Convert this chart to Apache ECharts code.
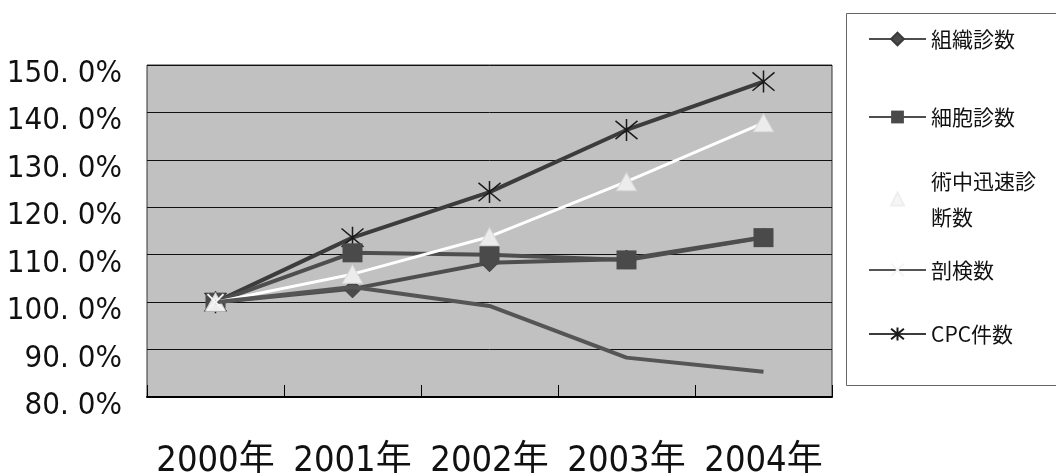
<!DOCTYPE html>
<html>
<head>
<meta charset="utf-8">
<script src="https://cdn.jsdelivr.net/npm/echarts@6/dist/echarts.min.js"></script>
<style>
  html, body { margin: 0; padding: 0; background: #ffffff; }
  #chart { width: 1056px; height: 473px; }
</style>
</head>
<body>
<div id="chart"></div>
<script>
// Year categories along the horizontal axis
const years = ['2000年', '2001年', '2002年', '2003年', '2004年'];

// Growth relative to 2000 (percent, 2000 = 100)
const soshikiShinsu = [100, 102.8, 108.3, 109.1, 113.7];   // 組織診数
const saiboShinsu   = [100, 110.4, 110.0, 108.9, 113.6];   // 細胞診数
const jinsokuShinsu = [100, 105.9, 113.8, 125.4, 137.8];   // 術中迅速診断数
const bokenSu       = [100, 103.2, 99.2, 88.3, 85.3];      // 剖検数
const cpcSu         = [100, 113.6, 123.2, 136.3, 146.5];   // CPC件数

// Value axis range
const yMin = 80, yMax = 150, yStep = 10;

const seriesNames = ['組織診数', '細胞診数', '術中迅速診断数', '剖検数', 'CPC件数'];

const labelFont = "'Liberation Sans Narrow', 'DejaVu Sans Condensed', 'Noto Sans CJK JP', sans-serif";
const cjkFont = "'Noto Sans CJK JP', sans-serif";

const crossPath = 'path://M0,0L10,10M10,0L0,10';
const starPath = 'path://M0,0L10,10M10,0L0,10M5,-1L5,11';

const chart = echarts.init(document.getElementById('chart'), null, { renderer: 'canvas' });

// One legend block per series, stacked inside the framed box on the right
const legendTops = [16, 94, 158, 247, 311];
const legends = seriesNames.map((name, i) => ({
  data: [name === '術中迅速診断数'
    ? { name: name, itemStyle: { color: '#f6f6f6', borderColor: '#eeeeee' } }
    : name],
  orient: 'vertical',
  left: 863,
  top: legendTops[i],
  itemWidth: 57,
  itemHeight: 16,
  itemGap: 0,
  selectedMode: false,
  textStyle: { fontFamily: cjkFont, fontSize: 21, color: '#111', lineHeight: 36 },
  formatter: n => n === '術中迅速診断数' ? '術中迅速診\n断数' : n
}));

chart.setOption({
  animation: false,
  backgroundColor: '#ffffff',
  graphic: [{
    type: 'rect',
    shape: { x: 846.5, y: 13.5, width: 240, height: 372 },
    style: { fill: 'none', stroke: '#666', lineWidth: 1 },
    z: -1
  }],
  legend: legends,
  grid: {
    left: 147, right: 224, top: 65, bottom: 76,
    outerBoundsMode: 'none',
    containLabel: false,
    show: true,
    backgroundColor: '#c1c1c1',
    borderColor: '#333',
    borderWidth: 1
  },
  xAxis: {
    type: 'category',
    data: years,
    boundaryGap: true,
    axisLine: { lineStyle: { color: '#000', width: 2 } },
    axisTick: { show: true, inside: true, length: 12, lineStyle: { color: '#000', width: 1 } },
    axisLabel: {
      interval: 0, margin: 47,
      fontFamily: labelFont, fontSize: 36, color: '#111'
    }
  },
  yAxis: {
    type: 'value',
    min: yMin, max: yMax, interval: yStep,
    axisLine: { show: false },
    axisTick: { show: false },
    splitLine: { lineStyle: { color: '#111', width: 1 } },
    axisLabel: {
      margin: 25,
      fontFamily: labelFont, fontSize: 31, color: '#111',
      formatter: v => '{v|' + v.toFixed(1).replace('.', '. ') + '%}',
      rich: {
        v: { fontFamily: labelFont, fontSize: 31, color: '#111', padding: [18, 0, 0, 0] }
      }
    }
  },
  series: [
    {
      name: '組織診数', type: 'line', data: soshikiShinsu,
      symbol: 'diamond', symbolSize: 18,
      lineStyle: { color: '#4e4e4e', width: 4 },
      itemStyle: { color: '#4a4a4a', borderColor: '#3a3a3a', borderWidth: 1 },
      z: 3
    },
    {
      name: '細胞診数', type: 'line', data: saiboShinsu,
      symbol: 'rect', symbolSize: [20, 19],
      lineStyle: { color: '#4e4e4e', width: 4 },
      itemStyle: { color: '#4a4a4a' },
      z: 4
    },
    {
      name: '術中迅速診断数', type: 'line', data: jinsokuShinsu,
      symbol: 'triangle', symbolSize: [20, 18],
      lineStyle: { color: '#ffffff', width: 3 },
      itemStyle: { color: '#ececec', borderColor: '#d8d8d8', borderWidth: 1 },
      z: 5
    },
    {
      name: '剖検数', type: 'line',
      data: bokenSu.map((v, i) => i === 0 ? { value: v } : { value: v, symbol: 'none' }),
      symbol: crossPath, symbolSize: 16,
      lineStyle: { color: '#555555', width: 4 },
      itemStyle: { color: 'transparent', borderColor: '#f4f4f4', borderWidth: 2 },
      z: 6
    },
    {
      name: 'CPC件数', type: 'line', data: cpcSu,
      symbol: starPath, symbolSize: 22,
      lineStyle: { color: '#3c3c3c', width: 4 },
      itemStyle: { color: 'transparent', borderColor: '#1a1a1a', borderWidth: 1.5 },
      z: 2
    }
  ]
});
</script>
</body>
</html>
